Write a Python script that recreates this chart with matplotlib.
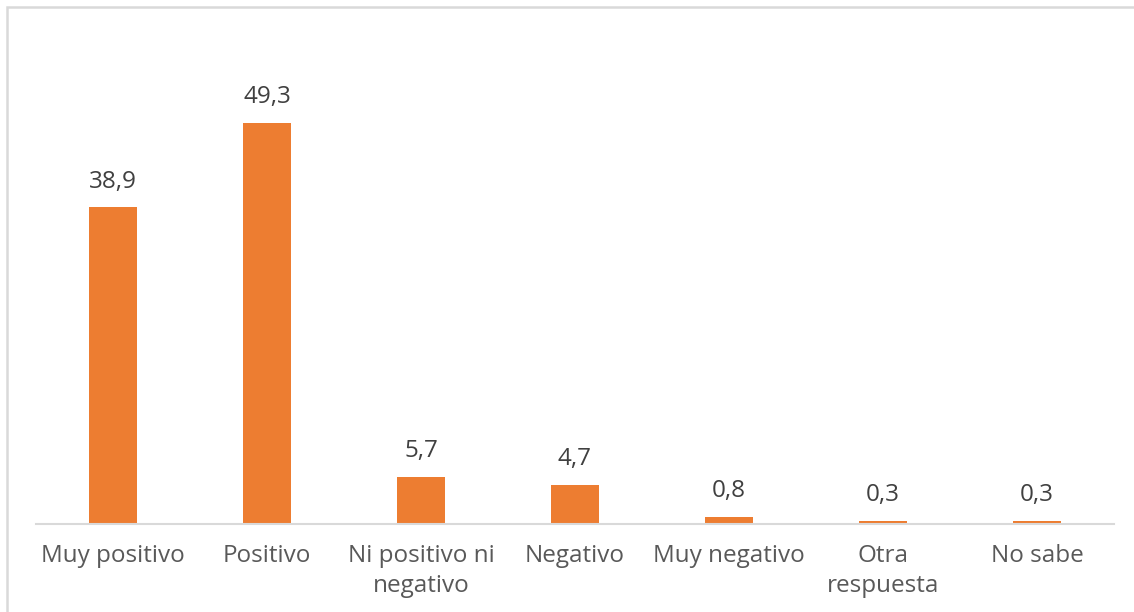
import matplotlib.pyplot as plt
from matplotlib.patches import Rectangle

categories = ["Muy positivo", "Positivo", "Ni positivo ni\nnegativo", "Negativo",
              "Muy negativo", "Otra\nrespuesta", "No sabe"]
values = [38.9, 49.3, 5.7, 4.7, 0.8, 0.3, 0.3]
value_labels = ["38,9", "49,3", "5,7", "4,7", "0,8", "0,3", "0,3"]

BAR_COLOR = "#ED7D31"
GRID_COLOR = "#D9D9D9"

plt.rcParams["font.family"] = ["Open Sans", "DejaVu Sans"]

fig = plt.figure(figsize=(11.34, 6.12), dpi=100)
ax = fig.add_axes([36 / 1134, 1 - 523.5 / 612, (1114 - 36) / 1134, 0.7966])

x = range(len(categories))
bars = ax.bar(x, values, width=0.31, color=BAR_COLOR)

for xi, v, lab in zip(x, values, value_labels):
    ax.annotate(lab, (xi, v), xytext=(0, 10), textcoords="offset points",
                ha="center", va="bottom", fontsize=17.5, color="#404040")

ax.set_xlim(-0.5, len(categories) - 0.5)
ax.set_ylim(0, 60)
ax.set_xticks(list(x))
ax.set_xticklabels(categories, fontsize=17.5, color="#595959", linespacing=1.3)
ax.tick_params(axis="x", length=0, pad=15)
ax.set_yticks([])
for side in ["top", "right", "left"]:
    ax.spines[side].set_visible(False)
ax.spines["bottom"].set_color(GRID_COLOR)
ax.spines["bottom"].set_linewidth(1.5)

# light frame around the chart area (only left and top edges fall inside the image)
fig.patches.append(Rectangle((7 / 1134, -0.05), 1.1, 1 - 7 / 612 + 0.05,
                             transform=fig.transFigure, fill=False,
                             edgecolor=GRID_COLOR, linewidth=1.8))

fig.savefig("out.png", dpi=100)
